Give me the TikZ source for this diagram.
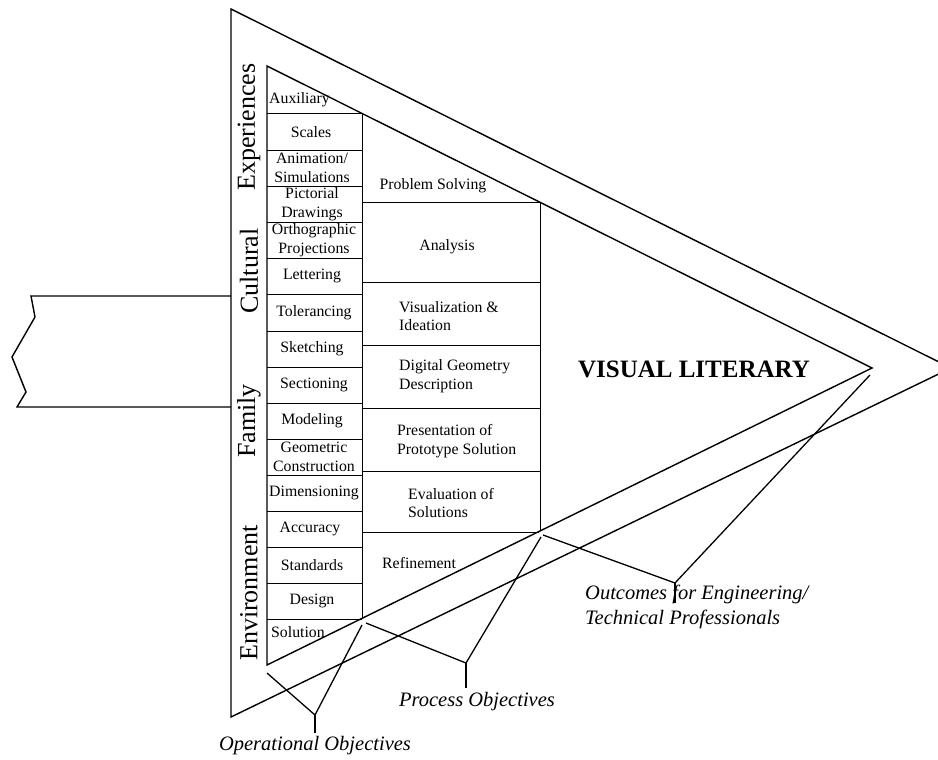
\documentclass[tikz,border=0pt]{standalone}
\usepackage{fontspec}
\setmainfont{Liberation Serif}
\begin{document}
\begin{tikzpicture}[x=1pt,y=-1pt,
  frame/.style={line width=1.4pt, line join=miter},
  divider/.style={line width=1pt},
  cell/.style={inner sep=0pt, font=\fontsize{15.8}{18.5}\selectfont, align=center},
  lcell/.style={cell, align=left},
  theme/.style={inner sep=0pt, rotate=90, font=\fontsize{26}{28}\selectfont},
  headline/.style={inner sep=0pt, font=\fontsize{25}{28}\selectfont\bfseries},
  caption/.style={inner sep=0pt, align=left, font=\fontsize{20.5}{25}\selectfont\itshape},
  bracket/.style={line width=1.3pt, line join=miter}]
\useasboundingbox (0,0) rectangle (938,760);
\clip (0,0) rectangle (938,760);

% outer arrowhead triangle
\coordinate (OT) at (231,9);
\coordinate (OB) at (231,717);
\coordinate (OR) at (951,368);
\draw[frame] (OR) -- (OT) -- (OB) -- cycle;

% broken-off shaft entering from the left
\draw[frame] (231,296) -- (31,296) -- (35,317) -- (12,357) -- (26,392) -- (17,407) -- (231,407);

% inner triangle
\coordinate (IT) at (267,66);
\coordinate (IB) at (267,665);
\coordinate (IR) at (872,368);
\draw[frame] (IR) -- (IT) -- (IB) -- cycle;

% operational column
\draw[divider] (362,113.4) -- (362,618.4);
\foreach \y in {114,150,186,222,258,294,331,367,403,439,475,511,547,583,619}
  \draw[divider] (267,\y) -- (362,\y);

% process column
\draw[divider] (540,202.3) -- (540,531);
\foreach \y in {202,282,345,408,471}
  \draw[divider] (362,\y) -- (540,\y);
\draw[divider] (362,532.5) -- (539,532.5);

% operational objectives
\node[cell, anchor=west] (aux) at (269,100) {Auxiliary};
\node[cell] (sca) at (311,132) {Scales};
\node[cell] (ani) at (312,168) {Animation/\\Simulations};
\node[cell] (pic) at (312,204) {Pictorial\\Drawings};
\node[cell] (ort) at (314,240) {Orthographic\\Projections};
\node[cell] (let) at (312,276) {Lettering};
\node[cell] (tol) at (314,313) {Tolerancing};
\node[cell] (ske) at (312,349) {Sketching};
\node[cell] (sec) at (314,385) {Sectioning};
\node[cell] (mod) at (312,421) {Modeling};
\node[cell] (geo) at (314,457) {Geometric\\Construction};
\node[cell] (dim) at (314,493) {Dimensioning};
\node[cell] (acc) at (310,529) {Accuracy};
\node[cell] (sta) at (312,565) {Standards};
\node[cell] (des) at (312,601) {Design};
\node[cell, anchor=west] (sol) at (271,632) {Solution};

% process objectives
\node[cell] (pro) at (433,186) {Problem Solving};
\node[cell] (ana) at (447,247) {Analysis};
\node[lcell, anchor=west] (vis) at (399,316) {Visualization \&\\Ideation};
\node[lcell, anchor=west] (dig) at (399,376) {Digital Geometry\\Description};
\node[lcell, anchor=west] (pre) at (397,441) {Presentation of\\Prototype Solution};
\node[lcell, anchor=west] (eva) at (408,503) {Evaluation of\\Solutions};
\node[cell, anchor=west] (ref) at (382,563) {Refinement};

% outcome
\node[headline] (vl) at (694,369) {VISUAL LITERARY};

% influences along the left side
\node[theme] (exp) at (249,127) {Experiences};
\node[theme] (cul) at (249,271) {Cultural};
\node[theme] (fam) at (249,421) {Family};
\node[theme] (env) at (249,593) {Environment};

% bracket: operational objectives
\coordinate (oa) at (267,673);
\coordinate (ob) at (362,625);
\coordinate (ov) at (315,715);
\coordinate (os) at (315,733);
\draw[bracket] (oa) -- (ov) -- (ob);
\draw[bracket] (ov) -- (os);
\node[caption, anchor=base] (opl) at (315,750) {Operational Objectives};

% bracket: process objectives
\coordinate (pa) at (366,623);
\coordinate (pb) at (541,537);
\coordinate (pv) at (466,663);
\coordinate (ps) at (466,688);
\draw[bracket] (pa) -- (pv) -- (pb);
\draw[bracket] (pv) -- (ps);
\node[caption, anchor=base] (prl) at (477,706) {Process Objectives};

% bracket: outcomes
\coordinate (ua) at (543,535);
\coordinate (ub) at (870,375);
\coordinate (uv) at (675,583);
\coordinate (us) at (675,603);
\draw[bracket] (ua) -- (uv) -- (ub);
\draw[bracket] (uv) -- (us);
\node[caption, anchor=base west] (oul) at (585,624) {Outcomes for Engineering/\\Technical Professionals};
\end{tikzpicture}
\end{document}
